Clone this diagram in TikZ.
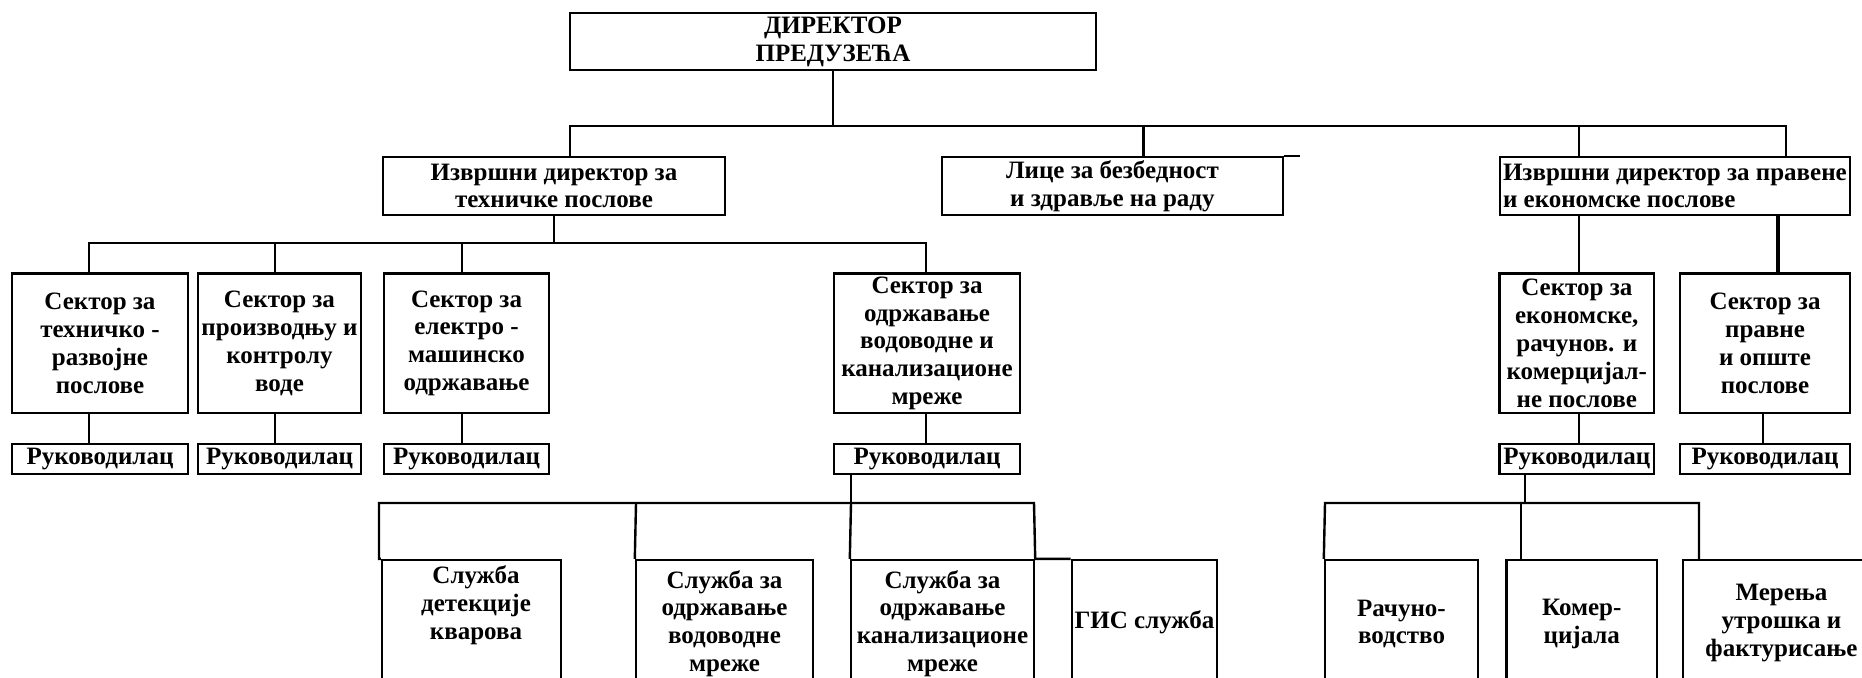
\documentclass[tikz,border=0pt]{standalone}
\usepackage{fontspec}
\setmainfont{Liberation Serif}
\begin{document}
\begin{tikzpicture}[x=0.5pt,y=-0.5pt,line width=1.2pt,
  org/.style 2 args={draw,rectangle,align=center,inner sep=0pt,minimum width=#1,minimum height=#2,font=\fontsize{12.5}{13.9}\selectfont\bfseries},
  lbl/.style={align=center,inner sep=0pt,font=\fontsize{12.5}{13.9}\selectfont\bfseries}]
\useasboundingbox (0,0) rectangle (1862,677);
\clip (0,0) rectangle (1862,677);
\node[org={263pt}{28.5pt}] (dir) at (833,41.5) {ДИРЕКТОР\\ПРЕДУЗЕЋА};
\node[org={171pt}{29pt}] (tech) at (554,186) {Извршни директор за\\техничке послове};
\node[org={170.7pt}{29pt}] (lice) at (1112.4,186) {Лице за безбедност\\и здравље на раду};
\node[org={175.2pt}{29pt},align=left] (prav) at (1674.9,186) {Извршни директор за правене\\и економске послове};
\node[org={88pt}{69.75pt}] (s1) at (100,343.25) {Сектор за\\техничко -\\развојне\\послове};
\node[org={81.5pt}{69.75pt}] (s2) at (279.5,343.25) {Сектор за\\производњу и\\контролу\\воде};
\node[org={82.5pt}{69.75pt}] (s3) at (466.5,343.25) {Сектор за\\електро -\\машинско\\одржавање};
\node[org={93pt}{69.75pt}] (s4) at (927,343.25) {Сектор за\\одржавање\\водоводне и\\канализационе\\мреже};
\node[org={77.2pt}{69.75pt}] (s5) at (1576.8,343.25) {Сектор за\\економске,\\рачунов. и\\комерцијал-\\не послове};
\node[org={85pt}{69.75pt}] (s6) at (1765,343.25) {Сектор за\\правне\\и опште\\послове};
\foreach \n/\x/\w in {1/100/88pt,2/279.5/81.5pt,3/466.5/82.5pt,4/927/93pt,5/1576.8/77.2pt,6/1765/85pt}
  \node[org={\w}{15pt}] (r\n) at (\x,459) {Руководилац};
\node[org={89.5pt}{100pt}] (sl1) at (471.5,660) {};
\node[org={88.5pt}{100pt}] (sl2) at (724.5,660) {};
\node[org={91.5pt}{100pt}] (sl3) at (942.5,660) {};
\node[org={72.65pt}{100pt}] (gis) at (1144.4,660) {};
\node[org={76.5pt}{100pt}] (rac) at (1401.5,660) {};
\node[org={75.2pt}{100pt}] (kom) at (1581.8,660) {};
\node[org={98.65pt}{100pt}] (mer) at (1781.4,660) {};
\node[lbl] (sl1t) at (476,605) {Служба\\детекције\\кварова};
\node[lbl] (sl2t) at (724.5,623.5) {Служба за\\одржавање\\водоводне\\мреже};
\node[lbl] (sl3t) at (942.5,623.5) {Служба за\\одржавање\\канализационе\\мреже};
\node[lbl] (gist) at (1144.4,622) {ГИС служба};
\node[lbl] (ract) at (1401.5,624) {Рачуно-\\водство};
\node[lbl] (komt) at (1581.8,624) {Комер-\\цијала};
\node[lbl] (mert) at (1781.4,623) {Мерења\\утрошка и\\фактурисање};
\coordinate (b1) at (570,126);
\coordinate (b2) at (1143.5,126);
\coordinate (b3) at (1579,126);
\coordinate (b4) at (1786,126);
\draw (dir) -- (dir |- b1);
\draw (tech.north -| b1) -- (b1) -- (b4) -- (b4 |- prav.north);
\draw (b2) -- (b2 |- lice.north);
\draw (b3) -- (b3 |- prav.north);
\draw (lice.north east) -- ++(16,0);
\coordinate (t1) at (89,243);
\coordinate (t2) at (275,243);
\coordinate (t3) at (462,243);
\coordinate (t4) at (926,243);
\draw (tech) -- (tech |- t1);
\draw (t1 |- s1.north) -- (t1) -- (t4) -- (t4 |- s4.north);
\draw (t2) -- (t2 |- s2.north);
\draw (t3) -- (t3 |- s3.north);
\foreach \n/\c in {1/t1,2/t2,3/t3,4/t4}
  \draw (s\n.south -| \c) -- (r\n.north -| \c);
\coordinate (p2) at (1778,0);
\coordinate (p3) at (1763,0);
\draw (prav.south -| b3) -- (s5.north -| b3);
\draw (s5.south -| b3) -- (r5.north -| b3);
\draw[line width=1.8pt] (prav.south -| p2) -- (s6.north -| p2);
\draw (s6.south -| p3) -- (r6.north -| p3);
\coordinate (m1) at (379,503);
\coordinate (m2) at (636,503);
\coordinate (m3) at (851,503);
\coordinate (m4) at (1034,503);
\draw (r4.south -| m3) -- (m3);
\draw (sl1.north west) -- (m1 |- sl1.north) -- (m1) -- (m4) -- (sl3.north east) -- (gis.north west);
\draw (m2) -- (sl2.north west);
\draw (m3) -- (sl3.north west);
\coordinate (n0) at (1525,503);
\coordinate (n1) at (1325,503);
\coordinate (n2) at (1521,503);
\coordinate (n3) at (1699,503);
\draw (r5.south -| n0) -- (n0);
\draw (rac.north west) -- (n1) -- (n3) -- (n3 |- mer.north);
\draw (n2) -- (n2 |- kom.north);
\end{tikzpicture}
\end{document}
